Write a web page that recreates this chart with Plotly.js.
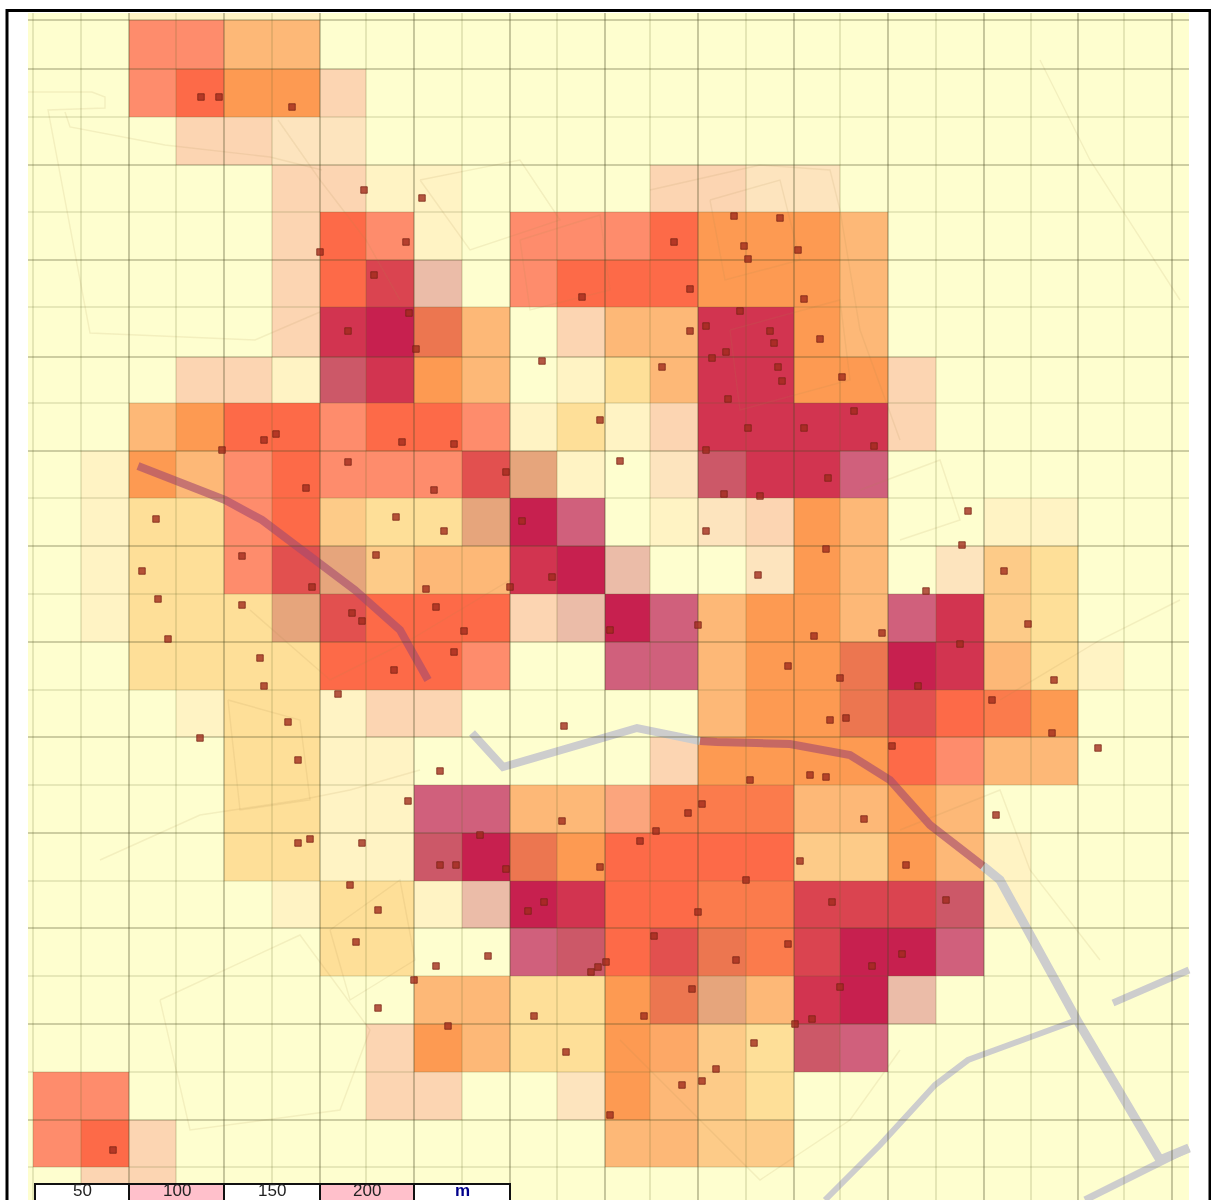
<!DOCTYPE html>
<html><head><meta charset="utf-8">
<script src="https://cdn.plot.ly/plotly-3.0.1.min.js"></script>
<style>html,body{margin:0;padding:0;background:#fff;overflow:hidden}#p{width:1211px;height:1200px;filter:blur(0.55px)}</style>
</head><body><div id="p"></div>
<script>
// Grid edges of the density cells, in map units
const gridX = [33,81,129,176,224,272,320,366,414,462,510,557,605,650,698,746,794,840,888,936,984,1031,1078,1124,1172];
const gridY = [20,69,117,165,212,260,307,357,403,451,498,546,594,642,690,737,785,833,881,928,976,1024,1072,1120,1167];
const mapTop = 13, mapBottom = 1200, mapLeft = 28, mapRight = 1189;
const cellEdgesY = [mapTop, ...gridY, mapBottom];

const cellPalette = ['#FEFECF','#FFF3C4','#FEDF98','#FCD5B2','#FDB877','#FD9A52','#FE8C6C','#FD6A48','#EBBCA8','#E6A57C','#D0607C','#DA4450','#D23450','#C7204F','#EC7650','#E2504F','#CC5868','#FDE4BE','#FB7B4C','#FDA866','#FDCB88','#FBA57D'];

const densityRows = [
 [0,0,1,1,1,1,0,0,0,0,0,0,0,0,0,0,0,0,0,0,0,0,0,0],
 [0,0,6,6,4,4,0,0,0,0,0,0,0,0,0,0,0,0,0,0,0,0,0,0],
 [0,0,6,7,5,5,3,0,0,0,0,0,0,0,0,0,0,0,0,0,0,0,0,0],
 [0,0,0,3,3,17,17,0,0,0,0,0,0,0,0,0,0,0,0,0,0,0,0,0],
 [0,0,0,0,0,3,3,1,1,0,0,0,0,3,3,17,17,0,0,0,0,0,0,0],
 [0,0,0,0,0,3,7,6,1,0,6,6,6,7,5,5,5,4,0,0,0,0,0,0],
 [0,0,0,0,0,3,7,11,8,0,6,7,7,7,5,5,5,4,0,0,0,0,0,0],
 [0,0,0,0,0,3,12,13,14,4,0,3,4,4,12,12,5,4,0,0,0,0,0,0],
 [0,0,0,3,3,1,16,12,5,4,0,1,2,4,12,12,5,5,3,0,0,0,0,0],
 [0,0,4,5,7,7,6,7,7,6,1,2,1,3,12,12,12,12,3,0,0,0,0,0],
 [0,1,5,4,6,7,6,6,6,15,9,1,0,17,16,12,12,10,0,0,0,0,0,0],
 [0,1,2,2,6,7,20,2,2,9,13,10,0,1,17,3,5,4,0,0,1,1,0,0],
 [0,1,2,2,6,15,9,20,4,4,12,13,8,0,0,17,5,4,0,17,20,2,0,0],
 [0,1,2,2,2,9,15,7,7,7,3,8,13,10,4,5,5,4,10,12,20,2,0,0],
 [0,0,2,2,2,2,7,7,7,6,0,0,10,10,4,5,5,14,13,12,4,2,1,0],
 [0,0,0,1,2,2,1,3,3,0,0,0,0,0,4,5,5,14,15,7,18,5,0,0],
 [0,0,0,0,2,2,1,1,0,0,0,0,0,3,5,5,5,5,7,6,4,4,0,0],
 [0,0,0,0,2,2,1,1,10,10,4,4,21,18,18,18,4,4,5,4,0,0,0,0],
 [0,0,0,0,2,2,1,1,16,13,14,5,7,7,7,7,20,20,5,4,1,0,0,0],
 [0,0,0,0,0,1,2,2,1,8,13,12,7,7,18,18,11,11,11,16,1,0,0,0],
 [0,0,0,0,0,0,2,2,0,0,10,16,7,15,14,18,11,13,13,10,0,0,0,0],
 [0,0,0,0,0,0,0,0,4,4,2,2,5,14,9,4,12,13,8,0,0,0,0,0],
 [0,0,0,0,0,0,0,3,5,4,2,2,5,19,20,2,16,10,0,0,0,0,0,0],
 [6,6,0,0,0,0,0,3,3,0,0,17,5,4,20,2,0,0,0,0,0,0,0,0],
 [6,7,3,0,0,0,0,0,0,0,0,0,4,4,20,20,0,0,0,0,0,0,0,0],
 [0,3,3,0,0,0,0,0,0,0,0,0,0,0,0,0,0,0,0,0,0,0,0,0]
];

const pointX = [201,219,292,364,422,320,406,374,409,348,416,542,582,674,734,780,744,748,798,690,804,690,706,740,770,774,820,726,712,778,782,662,842,728,854,600,748,804,874,706,828,620,724,760,276,264,222,402,454,348,306,434,506,156,396,444,522,968,706,962,826,142,242,376,312,426,510,552,758,1004,158,242,352,362,436,464,454,168,698,610,926,882,814,1028,960,788,394,260,918,840,1054,264,338,992,288,830,846,564,1052,200,892,1098,298,440,750,810,826,408,702,688,562,996,864,298,310,362,480,656,640,440,456,506,600,800,906,746,350,378,544,528,832,946,698,654,356,788,488,436,606,598,591,736,872,902,414,692,840,378,534,644,812,795,448,754,566,716,702,682,610,113];
const pointY = [97,97,107,190,198,252,242,275,313,331,349,361,297,242,216,218,246,259,250,289,299,331,326,311,331,343,339,352,358,367,381,367,377,399,411,420,428,428,446,450,478,461,494,496,434,440,450,442,444,462,488,490,472,519,517,531,521,511,531,545,549,571,556,555,587,589,587,577,575,571,599,605,613,621,607,631,652,639,625,630,591,633,636,624,644,666,670,658,686,678,680,686,694,700,722,720,718,726,733,738,746,748,760,771,780,775,777,801,804,813,821,815,819,843,839,843,835,831,841,865,865,869,867,861,865,880,885,910,902,911,902,900,912,936,942,944,956,966,962,967,972,960,966,954,980,989,987,1008,1016,1016,1019,1024,1026,1043,1052,1069,1081,1085,1115,1150];

// Roads: grey where they cross empty ground, tinted where they cross shaded cells
const roadGreyWest = {x:[472,503,637,700], y:[733,767,728,741]};
const roadGreyEast = {x:[983,1000,1077,1160,1189], y:[866,880,1020,1160,1148]};
const roadGreySouth = {x:[1189,1160,1085], y:[1148,1162,1200]};
const roadGreyBranch = {x:[1077,968,935,880,825], y:[1020,1060,1085,1145,1200]};
const roadGreySpur = {x:[1113,1189], y:[1003,970]};
const roadTintNorth = {x:[138,225,262,310,355,400,428], y:[466,500,520,555,590,630,680]};
const roadTintEast = {x:[700,717,790,850,890,930,983], y:[741,742,744,755,780,825,866]};

// Faint street plan behind the cells
const streets = [
 [[28,92,105,105,48,90,255,320],[92,92,97,108,110,333,340,312]],
 [[65,70,165,270,322],[112,127,145,157,170]],
 [[278,320,366,400],[120,180,240,300]],
 [[650,760,830,840,860,900],[190,165,170,210,330,440]],
 [[710,780,800,725,710],[200,180,260,280,200]],
 [[730,840,850,740,730],[330,300,380,410,330]],
 [[520,600,610,530,520],[240,215,290,310,240]],
 [[100,200,300,350,420],[860,815,800,790,770]],
 [[160,300,370,340,190,160],[1000,935,1030,1110,1130,1000]],
 [[330,400,415,350,330],[930,880,960,1000,930]],
 [[228,300,310,240,228],[700,720,800,810,700]],
 [[250,330,410,510],[610,680,640,580]],
 [[620,760,850,900],[1040,1180,1120,1050]],
 [[900,1000,1030,1100],[830,790,870,960]],
 [[1000,1100,1180],[700,640,600]],
 [[860,940,960,900],[490,460,520,540]],
 [[1040,1090,1180],[60,160,300]],
 [[420,520,560,470,420],[180,160,220,250,180]]
];

// Scale bar
const scaleEdges = [35,129,224,320,414,510];
const scaleLabels = ['50','100','150','200','m'];
const scaleFills = ['#FFFFFF','#FFC0CB','#FFFFFF','#FFC0CB','#FFFFFF'];
const scaleTop = 1184, scaleBottom = 1240;

// Frame
const frameX = [7,1210], frameY = [10.5,1300];

const n = cellPalette.length;
const colorscale = [];
cellPalette.forEach((c,i)=>{ colorscale.push([i/n,c]); colorscale.push([(i+1)/n,c]); });

function gridLines(xs, ys, orient){
  const X=[],Y=[];
  if(orient==='v'){ xs.forEach(v=>{X.push(v,v,null);Y.push(mapTop,mapBottom,null);}); }
  else { ys.forEach(v=>{X.push(mapLeft,mapRight,null);Y.push(v,v,null);}); }
  return {x:X,y:Y};
}
const odd=(a)=>a.filter((_,i)=>i%2===1), even=(a)=>a.filter((_,i)=>i%2===0);
const majorX = even(gridX).slice(1), minorX = odd(gridX).concat(gridX[0]), majorY = odd(gridY).concat(gridY[0]), minorY = even(gridY).slice(1);

function lineTrace(xy,color,width){
  return {type:'scatter',mode:'lines',x:xy.x,y:xy.y,line:{color:color,width:width,shape:'linear'},hoverinfo:'skip',showlegend:false,connectgaps:false};
}
const traces = [];
traces.push({type:'heatmap',x:gridX,y:cellEdgesY,z:densityRows.map(r=>r.map(v=>v+0.5)),zmin:0,zmax:n,colorscale:colorscale,showscale:false,hoverinfo:'skip',xgap:0,ygap:0,zsmooth:false});
streets.forEach(s=>traces.push(lineTrace({x:s[0],y:s[1]},'rgba(170,140,80,0.13)',1.4)));
const GREY='#CDCDCD', TINT='rgba(165,75,110,0.62)';
traces.push(lineTrace(roadGreyWest,GREY,8));
traces.push(lineTrace(roadGreyEast,GREY,9));
traces.push(lineTrace(roadGreySouth,GREY,7));
traces.push(lineTrace(roadGreyBranch,GREY,6));
traces.push(lineTrace(roadGreySpur,GREY,7));
traces.push(lineTrace(roadTintNorth,TINT,8));
traces.push(lineTrace(roadTintEast,TINT,8));
const MINOR='rgba(95,100,45,0.19)', MAJOR='rgba(75,75,35,0.36)';
traces.push(lineTrace(gridLines(minorX,null,'v'),MINOR,1.7));
traces.push(lineTrace(gridLines(null,minorY,'h'),MINOR,1.7));
traces.push(lineTrace(gridLines(majorX,null,'v'),MAJOR,1.7));
traces.push(lineTrace(gridLines(null,majorY,'h'),MAJOR,1.7));
traces.push({type:'scatter',mode:'markers',x:pointX,y:pointY,hoverinfo:'skip',showlegend:false,
  marker:{symbol:'square',size:6.5,color:'rgba(160,42,28,0.78)',line:{color:'rgba(120,35,20,0.75)',width:1}}});

const shapes = [
 {type:'rect',layer:'below',xref:'x',yref:'y',x0:mapLeft,x1:mapRight,y0:mapTop,y1:mapBottom,fillcolor:cellPalette[0],line:{width:0}},
 {type:'rect',layer:'above',xref:'x',yref:'y',x0:frameX[0],x1:frameX[1],y0:frameY[0],y1:frameY[1],line:{color:'#000',width:3}}
];
const annotations = [];
scaleLabels.forEach((t,i)=>{
  shapes.push({type:'rect',layer:'above',xref:'x',yref:'y',x0:scaleEdges[i],x1:scaleEdges[i+1],y0:scaleTop,y1:scaleBottom,fillcolor:scaleFills[i],line:{color:'#111',width:2}});
  const last = t==='m';
  annotations.push({xref:'x',yref:'y',x:(scaleEdges[i]+scaleEdges[i+1])/2,y:1190,text:last?'<b>m</b>':t,showarrow:false,
    font:{family:'"Liberation Sans",Arial,sans-serif',size:17,color:last?'#00008B':'#222'},xanchor:'center',yanchor:'middle',borderpad:0});
});

Plotly.newPlot('p',traces,{
  width:1211,height:1200,margin:{l:0,r:0,t:0,b:0,pad:0},
  paper_bgcolor:'#fff',plot_bgcolor:'#fff',showlegend:false,
  xaxis:{range:[0,1211],visible:false,fixedrange:true},
  yaxis:{range:[1200,0],visible:false,fixedrange:true},
  shapes:shapes,annotations:annotations
},{staticPlot:true,displayModeBar:false});
</script></body></html>
